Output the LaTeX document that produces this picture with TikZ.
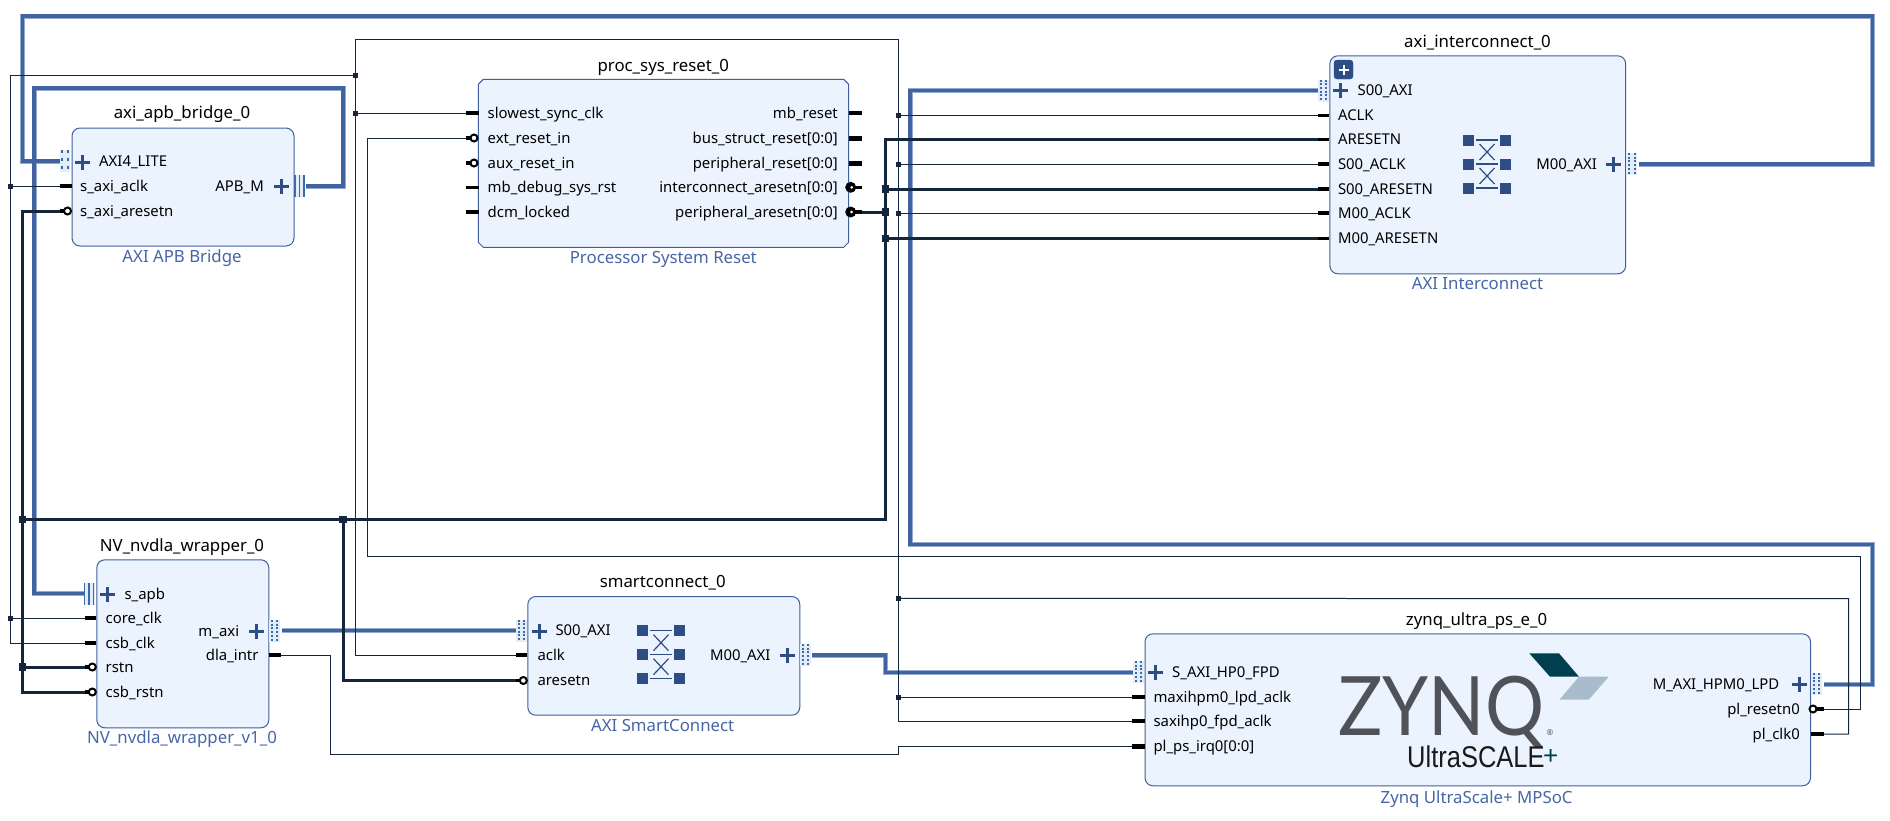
\documentclass[tikz,border=0pt]{standalone}
\usepackage{fontspec}
\setmainfont{Noto Sans}
\newfontfamily\zynfont{Lato}
\newfontfamily\ultrafont{Liberation Sans}
\definecolor{boxfill}{HTML}{EBF4FE}
\definecolor{boxline}{HTML}{3F5F9F}
\definecolor{subcol}{HTML}{4666A8}
\definecolor{pluscol}{HTML}{2F4D85}
\definecolor{netcol}{HTML}{14263C}
\definecolor{buscore}{HTML}{41639F}
\definecolor{bushalo}{HTML}{93A9D0}
\definecolor{iconbg}{HTML}{E3EDF8}
\definecolor{iconfg}{HTML}{3D6AA8}
\definecolor{zyngray}{HTML}{4F5359}
\definecolor{zyndark}{HTML}{003F4F}
\definecolor{zynlight}{HTML}{A8BCCB}
\tikzset{
  ipbox/.style={draw=boxline,fill=boxfill,line width=1pt,rounded corners=8pt,inner sep=0pt,anchor=north west},
  chambox/.style={draw=boxline,fill=boxfill,line width=1pt},
  title/.style={font=\fontsize{16.8}{20}\selectfont,text=black,anchor=base,inner sep=0pt,yshift=-5.5pt},
  subtitle/.style={font=\fontsize{16.8}{20}\selectfont,text=subcol,anchor=base,inner sep=0pt,yshift=-5.5pt},
  portl/.style={font=\fontsize{14.9}{17}\selectfont,text=black,anchor=base west,inner sep=0pt,yshift=-5pt},
  portr/.style={font=\fontsize{14.9}{17}\selectfont,text=black,anchor=base east,inner sep=0pt,yshift=-5pt},
  thinnet/.style={draw=netcol,line width=1pt},
  thicknet/.style={draw=netcol,line width=3pt},
  stubw/.style={draw=black,line width=3.2pt},
  stubwide/.style={draw=black,line width=5pt},
  busa/.style={draw=bushalo,line width=5pt},
  busb/.style={draw=buscore,line width=3.4pt},
  jthin/.style={fill=netcol,inner sep=0pt,minimum size=5pt,rectangle},
  jthick/.style={fill=netcol,inner sep=0pt,minimum size=7.5pt,rectangle},
  plusmark/.style={draw=pluscol,line width=3pt},
  invport/.style={draw=black,fill=white,line width=2pt,circle,inner sep=0pt,minimum size=7pt},
}
\newcommand{\plussign}[2]{\draw[plusmark] (#1-7.5,#2)--(#1+7.5,#2) (#1,#2-7.5)--(#1,#2+7.5);}
\newcommand{\doticon}[3]{%
  \fill[iconbg] (#1,#2-11) rectangle (#1+10.5,#2+11);
  \draw[iconfg,line width=2pt,dash pattern=#3] (#1+2.5,#2-11)--(#1+2.5,#2+11) (#1+8,#2-11)--(#1+8,#2+11);}
\newcommand{\baricon}[3]{%
  \fill[iconbg] (#1,#2-11) rectangle (#1+#3*2+2,#2+11);
  \foreach \b in {0,1,2}{\draw[iconfg,line width=1.5pt] (#1+1+\b*#3,#2-11)--(#1+1+\b*#3,#2+11);}}
\newcommand{\xbaricon}[2]{%
  \begin{scope}[shift={(#1,#2)}]
  \foreach \r in {-24,0,24}{
    \fill[pluscol] (-24,\r-5.5) rectangle (-13,\r+5.5);
    \fill[pluscol] (13,\r-5.5) rectangle (24,\r+5.5);
    \draw[pluscol,line width=1.2pt] (-11,\r)--(11,\r);}
  \draw[pluscol,line width=1.2pt] (-7.5,-20)--(7.5,-4) (7.5,-20)--(-7.5,-4) (-7.5,4)--(7.5,20) (7.5,4)--(-7.5,20);
  \end{scope}}
\begin{document}
\begin{tikzpicture}[x=1pt,y=-1pt]
\path[use as bounding box,fill=white] (0,0) rectangle (1890,820);

% ---------- waypoints and port ends ----------
\coordinate (pLite) at (60,161);
\coordinate (bTL) at (22.7,16);
\coordinate (bTR) at (1872.7,16);
\coordinate (pM00ic) at (1639,164);
\coordinate (pApbM) at (306,186);
\coordinate (bA1) at (343,88);
\coordinate (bA2) at (34,88);
\coordinate (pApbS) at (84,593.5);
\coordinate (pIcS) at (1318,90.5);
\coordinate (bC1) at (910,90.5);
\coordinate (bC2) at (910,544.3);
\coordinate (bC3) at (1872.7,544.3);
\coordinate (pHpm) at (1824,684.3);
\coordinate (pMaxi) at (281.5,630.5);
\coordinate (pScS) at (516,630.5);
\coordinate (pScM) at (812,655);
\coordinate (bD1) at (885.7,672.7);
\coordinate (pHp0) at (1133,672.7);

\coordinate (pSaclk) at (60,186);
\coordinate (pSarst) at (60,211);
\coordinate (pCore) at (85,618);
\coordinate (pCsb) at (85,643);
\coordinate (pRstn) at (85,667);
\coordinate (pCsbr) at (85,692);
\coordinate (pDla) at (281,655);
\coordinate (pSlow) at (466,113);
\coordinate (pExt) at (466,138);
\coordinate (pPer) at (861.5,212);
\coordinate (pAclk) at (1318,115.3);
\coordinate (pAres) at (1318,139.5);
\coordinate (pSaclkI) at (1318,164);
\coordinate (pSares) at (1318,189);
\coordinate (pMaclk) at (1318,213);
\coordinate (pMares) at (1318,238.5);
\coordinate (pScClk) at (516,655);
\coordinate (pScRst) at (516,680.5);
\coordinate (pMx) at (1132,697);
\coordinate (pSx) at (1132,721);
\coordinate (pIrq) at (1132,746.7);
\coordinate (pPlr) at (1824,709);
\coordinate (pPlc) at (1824,734);
\coordinate (cA) at (10.5,75);
\coordinate (cB) at (355.5,39.5);
\coordinate (cC) at (898.5,721);
\coordinate (cD) at (1848.7,598.7);
\coordinate (cE) at (1860.7,556.3);
\coordinate (cF) at (367,556.3);
\coordinate (dA) at (330.7,754.3);
\coordinate (dB) at (898.5,754.3);
\coordinate (rB) at (22.7,692);

% ---------- blocks ----------
\node[ipbox,minimum width=222pt,minimum height=118pt] (bridge) at (71.5,127.5) {};
\path[chambox] (483.3,79.3)--(843.7,79.3)--(848.7,84.3)--(848.7,242.3)--(843.7,247.3)--(483.3,247.3)--(478.3,242.3)--(478.3,84.3)--cycle;
\node[inner sep=0pt,minimum width=370.4pt,minimum height=168pt] (reset) at (663.5,163.3) {};
\node[ipbox,minimum width=295.8pt,minimum height=218pt] (inter) at (1329.4,55.3) {};
\node[ipbox,minimum width=172pt,minimum height=168pt] (nvdla) at (96.3,559.3) {};
\node[ipbox,minimum width=272pt,minimum height=118.7pt] (smart) at (527.3,596) {};
\node[ipbox,minimum width=665.5pt,minimum height=152pt] (zynq) at (1144.5,633.3) {};

% ---------- bus connectors ----------
\foreach \s in {busa,busb}{
  \draw[\s] (pLite) -| (bTL) -- (bTR) |- (pM00ic);
  \draw[\s] (pApbM) -| (bA1) -- (bA2) |- (pApbS);
  \draw[\s] (pIcS) -- (bC1) -- (bC2) -- (bC3) |- (pHpm);
  \draw[\s] (pMaxi) -- (pScS);
  \draw[\s] (pScM) -| (bD1) -- (pHp0);
}

% ---------- junctions ----------
\node[jthin] (j1) at (355.5,75) {};
\node[jthin] (j2) at (355.5,113) {};
\node[jthin] (j3) at (10.5,186) {};
\node[jthin] (j4) at (10.5,618) {};
\node[jthin] (j5) at (898.5,115.3) {};
\node[jthin] (j6) at (898.5,164) {};
\node[jthin] (j7) at (898.5,213) {};
\node[jthin] (j8) at (898.5,598.3) {};
\node[jthin] (j9) at (898.5,697) {};
\node[jthick] (k1) at (885.3,189) {};
\node[jthick] (k2) at (885.3,212) {};
\node[jthick] (k3) at (885.3,238.5) {};
\node[jthick] (k4) at (343,519.3) {};
\node[jthick] (k5) at (22.7,519.3) {};
\node[jthick] (k6) at (22.7,667) {};
\coordinate (k7) at (885.3,519.3);

% ---------- clock and interrupt nets ----------
\draw[thinnet] (pCsb) -| (cA) -- (j1.center);
\draw[thinnet] (j3.center) -- (pSaclk);
\draw[thinnet] (j4.center) -- (pCore);
\draw[thinnet] (pScClk) -| (cB) -| (cC) -- (pSx);
\draw[thinnet] (j2.center) -- (pSlow);
\draw[thinnet] (j5.center) -- (pAclk);
\draw[thinnet] (j6.center) -- (pSaclkI);
\draw[thinnet] (j7.center) -- (pMaclk);
\draw[thinnet] (j8.center) -- (cD) |- (pPlc);
\draw[thinnet] (j9.center) -- (pMx);
\draw[thinnet] (pPlr) -| (cE) -- (cF) |- (pExt);
\draw[thinnet] (pDla) -| (dA) -- (dB) |- (pIrq);

% ---------- reset nets ----------
\draw[thicknet] (pAres) -| (k7) -- (k5.center);
\draw[thicknet] (pPer) -- (k2.center);
\draw[thicknet] (k1.center) -- (pSares);
\draw[thicknet] (k3.center) -- (pMares);
\draw[thicknet] (pSarst) -| (rB) -- (pCsbr);
\draw[thicknet] (k6.center) -- (pRstn);
\draw[thicknet] (k4.center) |- (pScRst);

% ---------- block names ----------
\node[title] (t1) at (182,113) {axi\_apb\_bridge\_0};
\node[subtitle] (s1) at (182,257) {AXI APB Bridge};
\node[title] (t2) at (663.3,66) {proc\_sys\_reset\_0};
\node[subtitle] (s2) at (663.3,258) {Processor System Reset};
\node[title] (t3) at (1477.5,42) {axi\_interconnect\_0};
\node[subtitle] (s3) at (1477.5,284) {AXI Interconnect};
\node[title] (t4) at (182,546) {NV\_nvdla\_wrapper\_0};
\node[subtitle] (s4) at (182,738) {NV\_nvdla\_wrapper\_v1\_0};
\node[title] (t5) at (662.7,582) {smartconnect\_0};
\node[subtitle] (s5) at (662.7,726) {AXI SmartConnect};
\node[title] (t6) at (1476.6,620) {zynq\_ultra\_ps\_e\_0};
\node[subtitle] (s6) at (1476.6,797.5) {Zynq UltraScale+ MPSoC};

% ---------- bridge ports ----------
\doticon{59.5}{161}{on 3pt off 5pt}
\plussign{82.5}{162}
\node[portl] (b1) at (99,161) {AXI4\_LITE};
\draw[stubw] (60,186)--(71.5,186);
\node[portl] (b2) at (80,186) {s\_axi\_aclk};
\draw[stubw] (60,211)--(65,211);
\node[invport] (b3c) at (67.5,211) {};
\node[portl] (b3) at (80,211) {s\_axi\_aresetn};
\node[portr] (b4) at (264,186) {APB\_M};
\plussign{281.5}{186.5}
\baricon{294}{186}{4.5}

% ---------- reset ports ----------
\foreach \py/\nm/\tx in {113/r1/slowest\_sync\_clk,138/r2/ext\_reset\_in,163/r3/aux\_reset\_in,187.5/r4/mb\_debug\_sys\_rst,212/r5/dcm\_locked}{
  \node[portl] (\nm) at (487.5,\py) {\tx};}
\draw[stubw] (466,113)--(478.5,113) (466,187.5)--(478.5,187.5) (466,212)--(478.5,212);
\draw[stubw] (466,138)--(472,138) (466,163)--(472,163);
\node[invport] (r2c) at (474,138) {};
\node[invport] (r3c) at (474,163) {};
\foreach \py/\nm/\tx in {113/q1/mb\_reset,138/q2/bus\_struct\_reset[0:0],163/q3/peripheral\_reset[0:0],187.5/q4/interconnect\_aresetn[0:0],212/q5/peripheral\_aresetn[0:0]}{
  \node[portr] (\nm) at (838,\py) {\tx};}
\draw[stubw] (849,113)--(861.5,113);
\draw[stubwide] (849,138)--(861.5,138) (849,163)--(861.5,163);
\draw[stubw] (852,187.3)--(861.5,187.3) (852,212)--(861.5,212);
\foreach \py/\nm in {187.3/q4c,212/q5c}{
  \node[circle,fill=black,inner sep=0pt,minimum size=11pt] (\nm) at (850.7,\py) {};
  \fill[white] (851.7,\py) circle (1.5);}

% ---------- interconnect ports ----------
\draw[fill=pluscol,draw=pluscol,rounded corners=3pt] (1334,60) rectangle (1353,79);
\draw[white,line width=2pt] (1338.5,69.5)--(1348.5,69.5) (1343.5,64.5)--(1343.5,74.5);
\doticon{1318}{90.5}{on 2pt off 1.7pt}
\plussign{1340.5}{90.7}
\node[portl] (i1) at (1357.4,90) {S00\_AXI};
\foreach \py/\nm/\tx in {115.3/i2/ACLK,139.5/i3/ARESETN,164/i4/S00\_ACLK,189/i5/S00\_ARESETN,213/i6/M00\_ACLK,238.5/i7/M00\_ARESETN}{
  \node[portl] (\nm) at (1337.8,\py) {\tx};
  \draw[stubw] (1318,\py)--(1329.4,\py);}
\xbaricon{1487}{164}
\node[portr] (i8) at (1597,164) {M00\_AXI};
\plussign{1613.4}{164.6}
\doticon{1626.5}{164}{on 2pt off 1.7pt}

% ---------- nvdla ports ----------
\baricon{83.5}{594}{4.5}
\plussign{107.5}{594.5}
\node[portl] (n1) at (124.3,594) {s\_apb};
\node[portl] (n2) at (105.5,618) {core\_clk};
\node[portl] (n3) at (105.5,643) {csb\_clk};
\node[portl] (n4) at (105.5,667) {rstn};
\node[portl] (n5) at (105.5,692) {csb\_rstn};
\draw[stubw] (85,618)--(96.3,618) (85,643)--(96.3,643) (85,667)--(90,667) (85,692)--(90,692);
\node[invport] (n4c) at (92.3,667) {};
\node[invport] (n5c) at (92.3,692) {};
\node[portr] (n6) at (239.3,631) {m\_axi};
\plussign{256.3}{631}
\doticon{269}{631}{on 2pt off 1.7pt}
\node[portr] (n7) at (258.7,655) {dla\_intr};
\draw[stubw] (268.5,655)--(281,655);

% ---------- smartconnect ports ----------
\doticon{516}{630.5}{on 2pt off 1.7pt}
\plussign{539.3}{631}
\node[portl] (c1) at (555.3,630.5) {S00\_AXI};
\node[portl] (c2) at (537.3,655) {aclk};
\node[portl] (c3) at (537.3,680) {aresetn};
\draw[stubw] (516,655)--(527.3,655) (516,680.5)--(521,680.5);
\node[invport] (c3c) at (523.3,680.5) {};
\xbaricon{661}{654.7}
\node[portr] (c4) at (770.7,655) {M00\_AXI};
\plussign{787.3}{655.5}
\doticon{800}{655}{on 2pt off 1.7pt}

% ---------- zynq ports ----------
\doticon{1133}{672}{on 2pt off 1.7pt}
\plussign{1155}{672.7}
\node[portl] (z1) at (1172,672) {S\_AXI\_HP0\_FPD};
\node[portl] (z2) at (1153.3,697) {maxihpm0\_lpd\_aclk};
\node[portl] (z3) at (1153.3,721) {saxihp0\_fpd\_aclk};
\node[portl] (z4) at (1153.3,746.5) {pl\_ps\_irq0[0:0]};
\draw[stubw] (1132,697)--(1144.5,697) (1132,721)--(1144.5,721);
\draw[stubwide] (1132,746.7)--(1144.5,746.7);
\node[portr] (z5) at (1779.5,684) {M\_AXI\_HPM0\_LPD};
\plussign{1799}{684.5}
\doticon{1811}{684}{on 2pt off 1.7pt}
\node[portr] (z6) at (1800,709) {pl\_resetn0};
\node[portr] (z7) at (1800,734) {pl\_clk0};
\draw[stubw] (1817,709)--(1824,709) (1811,734)--(1824,734);
\node[invport] (z6c) at (1813,709) {};

% ---------- Zynq logo ----------
\fill[zyndark] (1529.3,653.3)--(1559,653.3)--(1579,676.7)--(1550,676.7)--cycle;
\fill[zynlight] (1579,676.7)--(1608.7,676.7)--(1588.7,699.7)--(1559.3,699.7)--cycle;
\node[anchor=base west,inner sep=0pt,text=zyngray,font=\zynfont\fontsize{82}{82}\selectfont] (zy) at (1338,735) {\scalebox{0.9}[1]{ZYNQ}};
\node[anchor=center,inner sep=0pt,text=zyngray,font=\fontsize{8}{8}\selectfont] (zr) at (1550,732.3) {®};
\node[anchor=base west,inner sep=0pt,text=black!90,font=\ultrafont\fontsize{30}{30}\selectfont] (zu) at (1407,767) {\scalebox{0.85}[1]{UltraSCALE}};
\node[anchor=base west,inner sep=0pt,text=zyndark,font=\ultrafont\fontsize{26}{26}\selectfont] (zp) at (1543,764) {+};
\end{tikzpicture}
\end{document}
